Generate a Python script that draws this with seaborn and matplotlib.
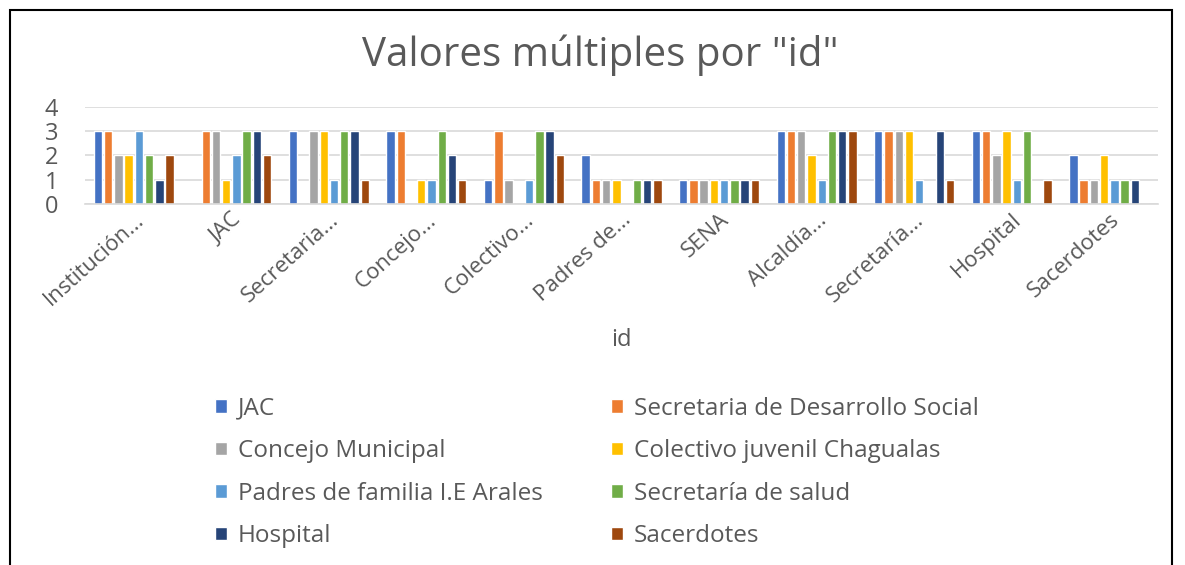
import matplotlib
matplotlib.use("Agg")
import matplotlib.pyplot as plt
import seaborn as sns
import pandas as pd
from matplotlib.patches import Rectangle

categories = ["Institución...", "JAC", "Secretaria...", "Concejo...", "Colectivo...",
              "Padres de...", "SENA", "Alcaldía...", "Secretaría...", "Hospital", "Sacerdotes"]
series = ["JAC", "Secretaria de Desarrollo Social", "Concejo Municipal",
          "Colectivo juvenil Chagualas", "Padres de familia I.E Arales",
          "Secretaría de salud", "Hospital", "Sacerdotes"]
v_jac = [3, 0, 3, 3, 1, 2, 1, 3, 3, 3, 2]
v_sds = [3, 3, 0, 3, 3, 1, 1, 3, 3, 3, 1]
v_concejo = [2, 3, 3, 0, 1, 1, 1, 3, 3, 2, 1]
v_colectivo = [2, 1, 3, 1, 0, 1, 1, 2, 3, 3, 2]
v_padres = [3, 2, 1, 1, 1, 0, 1, 1, 1, 1, 1]
v_salud = [2, 3, 3, 3, 3, 1, 1, 3, 0, 3, 1]
v_hospital = [1, 3, 3, 2, 3, 1, 1, 3, 3, 0, 1]
v_sacerdotes = [2, 2, 1, 1, 2, 1, 1, 3, 1, 1, 0]
colors = ["#4472C4", "#ED7D31", "#A5A5A5", "#FFC000", "#5B9BD5", "#70AD47", "#264478", "#9E480E"]

all_vals = [v_jac, v_sds, v_concejo, v_colectivo, v_padres, v_salud, v_hospital, v_sacerdotes]
rows = []
for s, vals in zip(series, all_vals):
    for c, v in zip(categories, vals):
        rows.append({"id": c, "serie": s, "valor": v})
df = pd.DataFrame(rows)

sns.set_theme(style="white")
plt.rcParams["font.family"] = ["Open Sans", "DejaVu Sans"]
txt = "#595959"

fig = plt.figure(figsize=(11.85, 5.65), dpi=100)
ax = fig.add_axes([85/1185, 1-204/565, (1158-85)/1185, (204-107)/565])
sns.barplot(data=df, x="id", y="valor", hue="serie", hue_order=series,
            order=categories, palette=colors, width=0.84, gap=0.18,
            saturation=1, ax=ax, legend=True)
ax.set_ylim(0, 4)
ax.set_yticks([0, 1, 2, 3, 4])
ax.yaxis.grid(True, color="#D9D9D9", linewidth=1.2)
ax.set_axisbelow(True)
for sp in ["top", "right", "left"]:
    ax.spines[sp].set_visible(False)
ax.spines["bottom"].set_color("#D9D9D9")
ax.spines["bottom"].set_linewidth(1.2)
ax.tick_params(axis="y", labelsize=17, colors=txt, length=0, pad=29)
for t in ax.get_yticklabels():
    t.set_horizontalalignment("left")
ax.tick_params(axis="x", labelsize=16, colors=txt, length=0, pad=4)
plt.setp(ax.get_xticklabels(), rotation=42, ha="right", rotation_mode="anchor")
ax.set_xlabel("id", fontsize=17, color=txt, labelpad=13)
ax.set_ylabel("")
ax.set_xlim(-0.5, len(categories) - 0.5)

handles, labels = ax.get_legend_handles_labels()
ax.get_legend().remove()
kw = dict(frameon=False, fontsize=17.5, labelcolor=txt, handlelength=0.5,
          handleheight=0.5, handletextpad=0.45, labelspacing=0.76, ncol=1,
          loc="upper left", borderaxespad=0)
fig.legend([handles[i] for i in [0, 2, 4, 6]], [labels[i] for i in [0, 2, 4, 6]],
           bbox_to_anchor=(205/1185, 1-387/565), **kw)
fig.legend([handles[i] for i in [1, 3, 5, 7]], [labels[i] for i in [1, 3, 5, 7]],
           bbox_to_anchor=(601/1185, 1-387/565), **kw)

fig.text(600/1185, 1-55/565, 'Valores múltiples por "id"', ha="center", va="center",
         fontsize=29, color=txt)
fig.patches.append(Rectangle((10/1185, -0.1), (1172-10)/1185, 1.1 - 10/565,
                             transform=fig.transFigure, fill=False,
                             edgecolor="black", linewidth=1.5))
fig.savefig("out.png", dpi=100, facecolor="white")
